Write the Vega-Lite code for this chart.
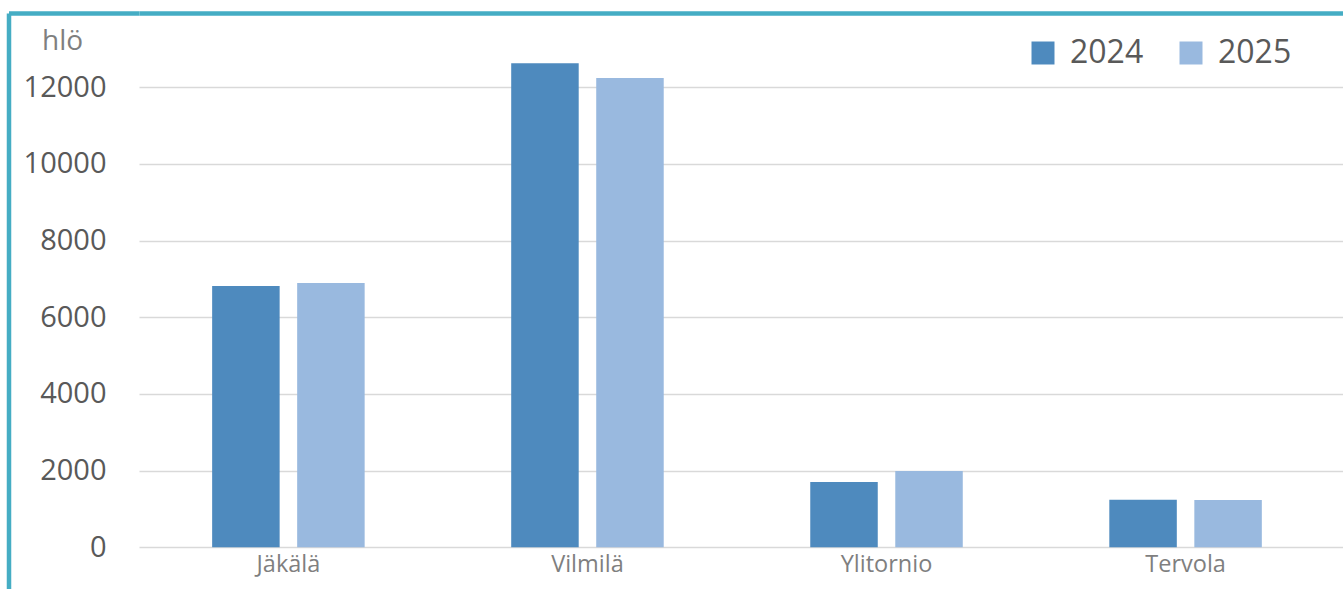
{
  "$schema": "https://vega.github.io/schema/vega-lite/v6.json",
  "autosize": {"type": "none"},
  "padding": {"left": 139, "top": 13, "right": 0, "bottom": 0},
  "width": 1204,
  "height": 576,
  "background": "white",
  "config": {
    "view": {"stroke": null},
    "font": "Open Sans"
  },
  "data": {
    "values": [
      {"kunta": "Jäkälä", "vuosi": "2024", "hlo": 6817},
      {"kunta": "Jäkälä", "vuosi": "2025", "hlo": 6895},
      {"kunta": "Vilmilä", "vuosi": "2024", "hlo": 12627},
      {"kunta": "Vilmilä", "vuosi": "2025", "hlo": 12243},
      {"kunta": "Ylitornio", "vuosi": "2024", "hlo": 1704},
      {"kunta": "Ylitornio", "vuosi": "2025", "hlo": 1991},
      {"kunta": "Tervola", "vuosi": "2024", "hlo": 1242},
      {"kunta": "Tervola", "vuosi": "2025", "hlo": 1234}
    ]
  },
  "mark": {"type": "bar"},
  "encoding": {
    "x": {
      "field": "kunta",
      "type": "nominal",
      "sort": ["Jäkälä", "Vilmilä", "Ylitornio", "Tervola"],
      "scale": {"paddingInner": 0.49, "paddingOuter": 0.258, "align": 0.474},
      "axis": {
        "title": null,
        "orient": "bottom",
        "offset": -41.7,
        "domain": false,
        "ticks": false,
        "labelAngle": 0,
        "labelFontSize": 23.5,
        "labelColor": "#7f7f7f",
        "labelPadding": 5,
        "labelFont": "Open Sans"
      }
    },
    "xOffset": {
      "field": "vuosi",
      "type": "nominal",
      "scale": {"paddingInner": 0.206, "paddingOuter": 0}
    },
    "y": {
      "field": "hlo",
      "type": "quantitative",
      "scale": {"domain": [-1088, 13938], "nice": false, "zero": false},
      "axis": {
        "title": "hlö",
        "titleAngle": 0,
        "titleAlign": "left",
        "titleBaseline": "alphabetic",
        "titleX": 33,
        "titleY": 36,
        "titleFontSize": 28,
        "titleFontWeight": "normal",
        "titleColor": "#7f7f7f",
        "titleFont": "Open Sans",
        "orient": "left",
        "offset": 130.5,
        "values": [0, 2000, 4000, 6000, 8000, 10000, 12000, 13938],
        "labelExpr": "datum.value > 13000 ? '' : datum.label",
        "format": "d",
        "labelFontSize": 29,
        "labelColor": "#595959",
        "labelFont": "Open Sans",
        "labelPadding": 33,
        "domain": true,
        "domainColor": "#45adc4",
        "domainWidth": 4.5,
        "ticks": true,
        "tickSize": -130.5,
        "tickWidth": 4.5,
        "tickColor": {"condition": {"test": "datum.value > 13000", "value": "#45adc4"}, "value": "transparent"},
        "grid": true,
        "gridColor": {"condition": {"test": "datum.value > 13000", "value": "#45adc4"}, "value": "#d9d9d9"},
        "gridWidth": {"condition": {"test": "datum.value > 13000", "value": 4.5}, "value": 1.5}
      }
    },
    "y2": {"datum": 0},
    "color": {
      "field": "vuosi",
      "type": "nominal",
      "scale": {"domain": ["2024", "2025"], "range": ["#4e8abe", "#99b9df"]},
      "legend": {
        "title": null,
        "orient": "none",
        "direction": "horizontal",
        "legendX": 888,
        "legendY": 24,
        "symbolType": "square",
        "symbolSize": 529,
        "symbolStrokeWidth": 0,
        "labelFontSize": 32,
        "labelColor": "#595959",
        "labelFont": "Open Sans",
        "labelOffset": 11,
        "columnPadding": 31
      }
    }
  }
}
